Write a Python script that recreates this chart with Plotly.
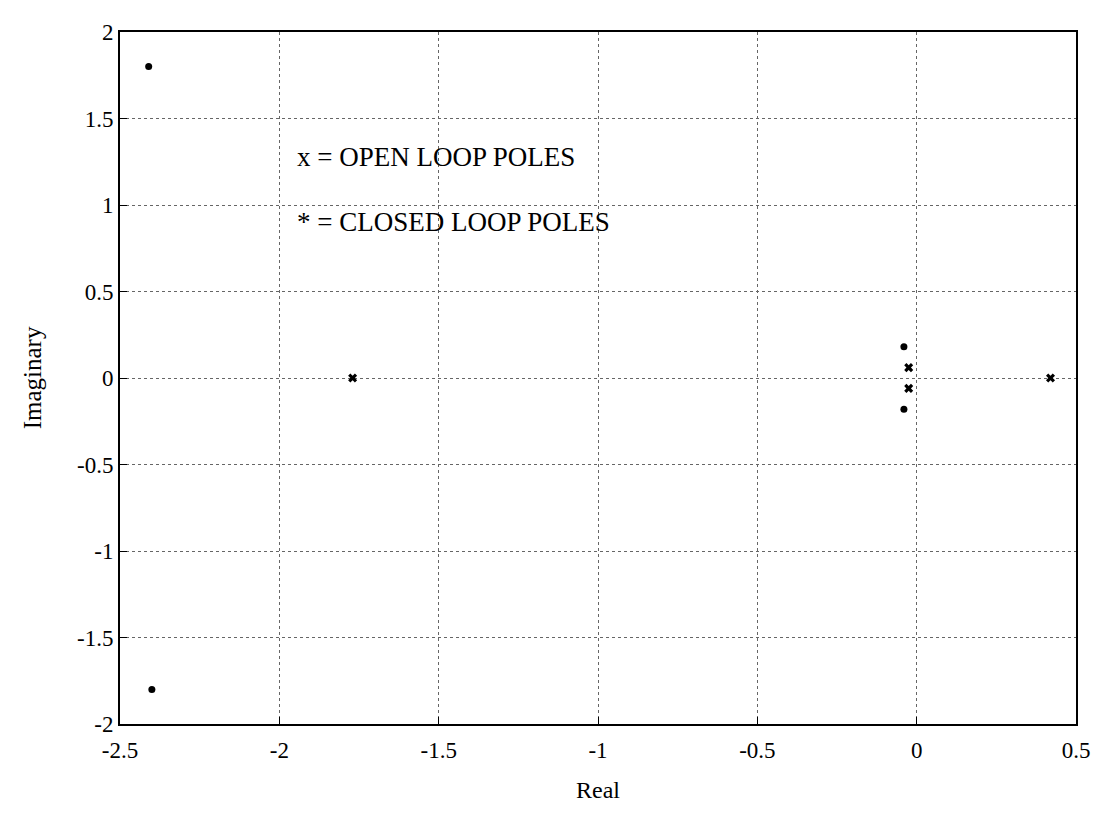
import plotly.graph_objects as go

# Root locus: poles of the open and closed loop
open_re = [-1.77, -0.025, -0.025, 0.42]
open_im = [0.0, 0.06, -0.06, 0.0]

closed_re = [-2.41, -2.40, -0.04, -0.04]
closed_im = [1.80, -1.80, 0.18, -0.18]

x_ticks = [-2.5, -2, -1.5, -1, -0.5, 0, 0.5]
y_ticks = [-2, -1.5, -1, -0.5, 0, 0.5, 1, 1.5, 2]

serif = "Liberation Serif, Times New Roman, serif"

fig = go.Figure()

fig.add_trace(go.Scatter(
    x=open_re, y=open_im, mode="markers", name="open loop",
    marker=dict(symbol="x", size=8, color="black")
))
fig.add_trace(go.Scatter(
    x=closed_re, y=closed_im, mode="markers", name="closed loop",
    marker=dict(symbol="circle", size=7, color="black")
))

# легенда текстом внутри графика, как в оригинале
fig.add_annotation(x=-1.95, y=1.28, text="x = OPEN LOOP POLES", showarrow=False,
                   xanchor="left", yanchor="middle",
                   font=dict(family=serif, size=27, color="black"))
fig.add_annotation(x=-1.95, y=0.9, text="* = CLOSED LOOP POLES", showarrow=False,
                   xanchor="left", yanchor="middle",
                   font=dict(family=serif, size=27, color="black"))

axis_common = dict(
    showline=True, linecolor="black", linewidth=2, mirror=True,
    ticks="inside", ticklen=7, tickcolor="black",
    showgrid=True, gridcolor="#666666", gridwidth=1, griddash="dot",
    zeroline=False,
    tickfont=dict(family=serif, size=23, color="black"),
)

fig.update_layout(
    width=1100, height=814,
    showlegend=False,
    plot_bgcolor="white", paper_bgcolor="white",
    margin=dict(l=112, r=32, t=18, b=98),
    xaxis=dict(range=[-2.5, 0.5], tickvals=x_ticks, ticktext=[str(v) for v in x_ticks],
               ticklabelstandoff=4,
               title=dict(text="Real", font=dict(family=serif, size=24, color="black"), standoff=20),
               **axis_common),
    yaxis=dict(range=[-2, 2], tickvals=y_ticks, ticktext=[str(v) for v in y_ticks],
               title=dict(text="Imaginary", font=dict(family=serif, size=25, color="black"), standoff=28),
               **axis_common),
)

fig.write_html("out.html")
